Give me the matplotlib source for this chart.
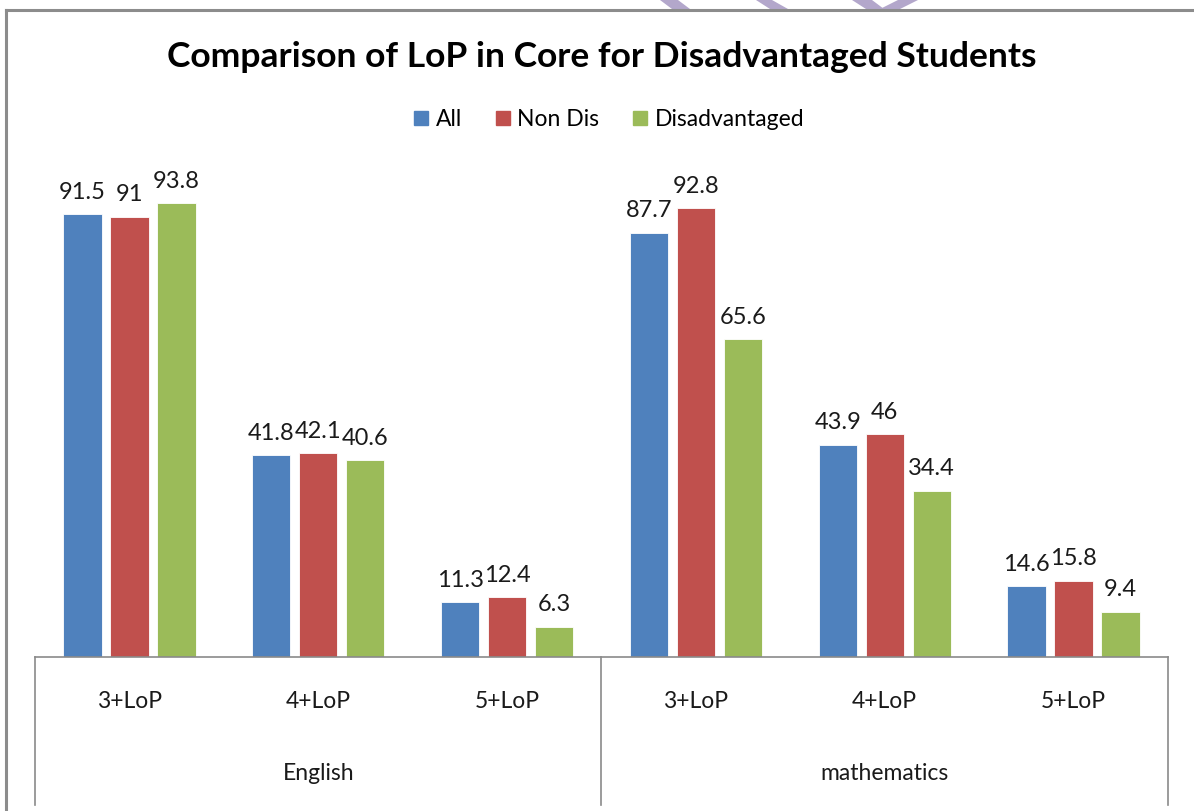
import matplotlib
matplotlib.use("Agg")
import matplotlib.pyplot as plt
import numpy as np
from matplotlib.lines import Line2D
from matplotlib.patches import Polygon

subjects = ["English", "mathematics"]
levels = ["3+LoP", "4+LoP", "5+LoP"]
series_names = ["All", "Non Dis", "Disadvantaged"]
all_vals = [91.5, 41.8, 11.3, 87.7, 43.9, 14.6]
nondis_vals = [91.0, 42.1, 12.4, 92.8, 46.0, 15.8]
disadv_vals = [93.8, 40.6, 6.3, 65.6, 34.4, 9.4]
colors = ["#4F81BD", "#C0504D", "#9BBB59"]
title = "Comparison of LoP in Core for Disadvantaged Students"

plt.rcParams['font.family'] = ['Lato', 'DejaVu Sans']

W, H = 1194, 811
fig = plt.figure(figsize=(W / 100, H / 100), dpi=100)
fig.patch.set_facecolor("white")

# plot area in pixels
left_px, right_px, base_px, top_px = 35, 1168, 657, 173
ax = fig.add_axes([left_px / W, (H - base_px) / H, (right_px - left_px) / W, (base_px - top_px) / H])
ax.set_xlim(-0.5, 5.5)
ax.set_ylim(0, 100)
for s in ax.spines.values():
    s.set_visible(False)
ax.set_xticks([])
ax.set_yticks([])
ax.patch.set_alpha(0)

x = np.arange(6)
pitch = 0.249
width = 0.203
data = [all_vals, nondis_vals, disadv_vals]
txt_color = "#1a1a1a"
for i, (vals, c, name) in enumerate(zip(data, colors, series_names)):
    xs = x + (i - 1) * pitch
    ax.bar(xs, vals, width=width, color=c, edgecolor="white", linewidth=0.6, label=name)
    for xi, v in zip(xs, vals):
        lab = f"{v:g}"
        ax.annotate(lab, (xi, v), xytext=(0, 8), textcoords="offset points",
                    ha="center", va="bottom", fontsize=17, color=txt_color)

# category axis (two-level)
axis_color = "#8a8a8a"
ax.add_line(Line2D([-0.5, 5.5], [0, 0], color=axis_color, lw=1.2, clip_on=False))
trans = ax.get_xaxis_transform()
bottom_frac = -(805 - base_px) / (base_px - top_px)
for xv in [-0.5, 2.5, 5.5]:
    ax.add_line(Line2D([xv, xv], [0, bottom_frac], color=axis_color, lw=1.2,
                       transform=trans, clip_on=False))
lvl_y = -(701 - base_px) / (base_px - top_px)
sub_y = -(773 - base_px) / (base_px - top_px)
for k in range(6):
    ax.text(k, lvl_y, levels[k % 3], transform=trans, ha="center", va="center",
            fontsize=16.5, color=txt_color)
for j, s in enumerate(subjects):
    ax.text(1 + 3 * j, sub_y, s, transform=trans, ha="center", va="center",
            fontsize=16.5, color=txt_color)

# title
fig.text(602 / W, 1 - 57 / H, title, ha="center", va="center", fontsize=25.5,
         fontweight="bold", color="#000000")

# legend
handles = [Line2D([], [], marker="s", linestyle="none", markersize=10,
                  markerfacecolor=c, markeredgecolor=c) for c in colors]
fig.legend(handles, series_names, loc="center", bbox_to_anchor=(607 / W, 1 - 120 / H),
           ncol=3, frameon=False, fontsize=16.5, handletextpad=0.15, columnspacing=1.25,
           handlelength=1.0)

# outer frame (partially visible)
frame_color = "#8c8c8c"
fig.add_artist(Line2D([6 / W, 1.0], [1 - 10 / H, 1 - 10 / H], color=frame_color, lw=2.2,
                      transform=fig.transFigure))
fig.add_artist(Line2D([6 / W, 6 / W], [0, 1 - 10 / H], color=frame_color, lw=2.2,
                      transform=fig.transFigure))

# decorative watermark fragments at top
wm = "#B3A7CB"
def px_poly(pts):
    return Polygon([(px / W, 1 - py / H) for px, py in pts], closed=True,
                   transform=fig.transFigure, facecolor=wm, edgecolor="none", zorder=0)
for pts in [
    [(660, 0), (678, 0), (690, 9), (672, 9)],
    [(756, 0), (772, 0), (788, 9), (770, 9)],
    [(852, 0), (872, 0), (884, 9), (866, 9)],
    [(880, 9), (898, 0), (918, 0), (900, 9)],
]:
    fig.add_artist(px_poly(pts))

fig.savefig("out.png", dpi=100)
